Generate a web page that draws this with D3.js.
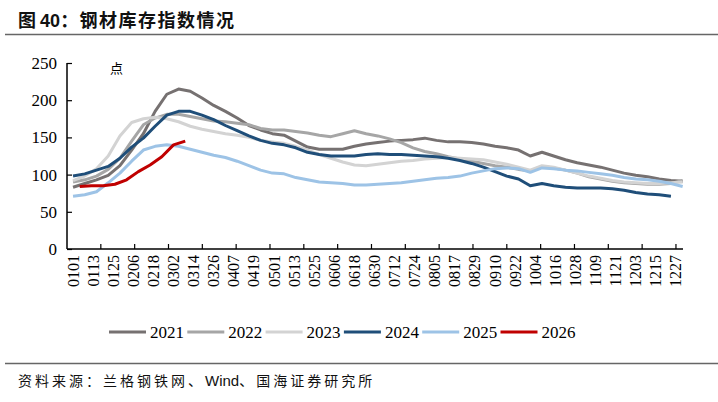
<!DOCTYPE html>
<html>
<head>
<meta charset="utf-8">
<script src="https://cdn.jsdelivr.net/npm/d3@7/dist/d3.min.js"></script>
<style>
  body { margin: 0; background: #fff; }
  .serif { font-family: "Liberation Serif", "DejaVu Serif", serif; }
  .cjk { font-family: "Noto Sans CJK SC", sans-serif; }
</style>
</head>
<body>
<div id="chart"></div>
<script>
// x labels (MMDD), one every 12 days starting Jan 1
var dateLabels = ["0101","0113","0125","0206","0218","0302","0314","0326","0407","0419",
  "0501","0513","0525","0606","0618","0630","0712","0724","0805","0817","0829","0910",
  "0922","1004","1016","1028","1109","1121","1203","1215","1227"];

var years = ["2021", "2022", "2023", "2024", "2025", "2026"];
var colors = ["#767171", "#a6a6a6", "#d3d3d3", "#1f4e79", "#9dc3e6", "#c00000"];
// first data day (day of year, 0 = Jan 1); points are weekly after that
var startDay = [0, 0, 0, 0, 0, 4];

var v2021 = [83,88,93,99,112,133,155,185,208,215,212,203,193,185,176,166,160,155,153,145,
  137,134,134,134,138,141,143,145,146,147,149,146,144,144,143,141,138,136,133,125,130,125,
  120,116,113,110,106,102,99,97,94,92,91];
var v2022 = [90,93,98,107,122,145,167,176,181,181,178,175,172,171,169,167,162,160,160,158,
  156,153,151,155,159,155,152,148,143,136,131,128,124,121,118,115,112,110,107,105,111,109,
  106,102,97,94,91,89,88,87,87,88,92];
var v2023 = [92,98,108,125,152,170,175,177,175,171,165,161,158,155,153,150,146,144,142,138,
  133,127,122,117,113,112,114,116,118,119,121,122,123,122,121,120,117,114,110,106,112,110,
  106,102,98,95,92,90,89,88,88,89,90];
var v2024 = [98,101,106,111,122,137,149,165,180,185,185,180,174,166,159,152,146,142,140,136,
  130,127,125,125,125,127,128,127,127,126,125,124,122,119,115,110,104,98,94,85,88,85,83,82,
  82,82,81,79,76,74,73,71];
var v2025 = [71,73,77,89,102,118,133,138,140,138,134,130,126,123,118,112,106,102,101,96,93,
  90,89,88,86,86,87,88,89,91,93,95,96,98,102,105,108,109,108,103,109,108,106,105,103,101,
  99,96,94,93,91,88,84];
var v2026 = [84,85,85,87,93,104,113,124,140,145];

var seriesValues = [v2021, v2022, v2023, v2024, v2025, v2026];
var yTicks = [0, 50, 100, 150, 200, 250];

var W = 718, H = 402;
var svg = d3.select("#chart").append("svg")
    .attr("width", W)
    .attr("height", H)
    .style("background", "#fff");

var x = d3.scaleLinear().domain([-3.6, 364.2]).range([67, 683]);
var y = d3.scaleLinear().domain([0, 250]).range([249, 63]);

// title + rules
var title = svg.append("text")
    .attr("x", 18).attr("y", 27)
    .attr("class", "cjk")
    .style("font-size", "18px")
    .style("font-weight", "bold")
    .style("fill", "#111");
title.append("tspan").text("图 ");
title.append("tspan").text("40").style("font-family", "Liberation Sans, Arial, sans-serif");
title.append("tspan").text("：钢材库存指数情况").style("letter-spacing", "1.5px");

svg.append("line").attr("x1", 5).attr("x2", 718).attr("y1", 34.5).attr("y2", 34.5)
    .style("stroke", "#666").style("stroke-width", 1.5);
svg.append("line").attr("x1", 5).attr("x2", 718).attr("y1", 363.5).attr("y2", 363.5)
    .style("stroke", "#666").style("stroke-width", 1.5);

var src = svg.append("text")
    .attr("x", 18).attr("y", 386)
    .attr("class", "cjk")
    .style("font-size", "14px")
    .style("fill", "#111");
src.append("tspan").text("资料来源：兰格钢铁网、").style("letter-spacing", "3px");
src.append("tspan").text("Wind").style("font-family", "Liberation Sans, Arial, sans-serif").style("font-size", "15px");
src.append("tspan").text("、国海证券研究所").style("letter-spacing", "3px");

// y axis
var yAxis = d3.axisRight(y).tickValues(yTicks).tickSize(5).tickFormat("");
svg.append("g").attr("transform", "translate(67,0)").call(yAxis)
    .call(function(g) { g.select(".domain").attr("d", "M0," + y(250) + "V" + y(0)); });

svg.selectAll(".ylab")
  .data(yTicks)
  .enter().append("text")
    .attr("class", "ylab serif")
    .attr("x", 57)
    .attr("y", function(d) { return y(d); })
    .attr("dy", "0.35em")
    .style("text-anchor", "end")
    .style("font-size", "17px")
    .text(function(d) { return d; });

svg.append("text")
    .attr("x", 110).attr("y", 73)
    .attr("class", "cjk")
    .style("font-size", "13px")
    .text("点");

// x axis: tick marks at 18 even steps, labels every 12 days
var tickDays = d3.range(19).map(function(k) { return -3.6 + k * 363.6 / 18; });
svg.append("line")
    .attr("x1", 67).attr("x2", 683).attr("y1", y(0)).attr("y2", y(0))
    .style("stroke", "#000").style("stroke-width", 1.5);
svg.selectAll(".xtick")
  .data(tickDays.slice(1))
  .enter().append("line")
    .attr("class", "xtick")
    .attr("x1", function(d) { return x(d); })
    .attr("x2", function(d) { return x(d); })
    .attr("y1", y(0)).attr("y2", y(0) - 5)
    .style("stroke", "#000").style("stroke-width", 1.2);

svg.selectAll(".xlab")
  .data(dateLabels)
  .enter().append("text")
    .attr("class", "xlab serif")
    .attr("transform", function(d, i) { return "translate(" + (x(i * 12) + 5.5) + "," + 255 + ") rotate(-90)"; })
    .style("text-anchor", "end")
    .style("font-size", "16px")
    .text(function(d) { return d; });

svg.selectAll(".tick line").style("stroke", "#000").style("stroke-width", 1.2);
svg.selectAll(".domain").style("stroke", "#000").style("stroke-width", 1.5);

// lines
var line = d3.line()
    .x(function(d) { return x(d[0]); })
    .y(function(d) { return y(d[1]); });

seriesValues.forEach(function(vals, s) {
  var pts = vals.map(function(v, i) { return [startDay[s] + i * 7, v]; });
  svg.append("path")
      .datum(pts)
      .attr("d", line)
      .style("fill", "none")
      .style("stroke", colors[s])
      .style("stroke-width", 3)
      .style("stroke-linejoin", "round");
});

// legend
var legend = svg.selectAll(".legend")
  .data(years)
  .enter().append("g")
    .attr("class", "legend")
    .attr("transform", function(d, i) { return "translate(" + (109 + i * 78.3) + ",332)"; });

legend.append("line")
    .attr("x1", 0).attr("x2", 37)
    .style("stroke", function(d, i) { return colors[i]; })
    .style("stroke-width", 3);
legend.append("text")
    .attr("class", "serif")
    .attr("x", 41).attr("dy", "0.35em")
    .style("font-size", "17px")
    .text(function(d) { return d; });
</script>
</body>
</html>
